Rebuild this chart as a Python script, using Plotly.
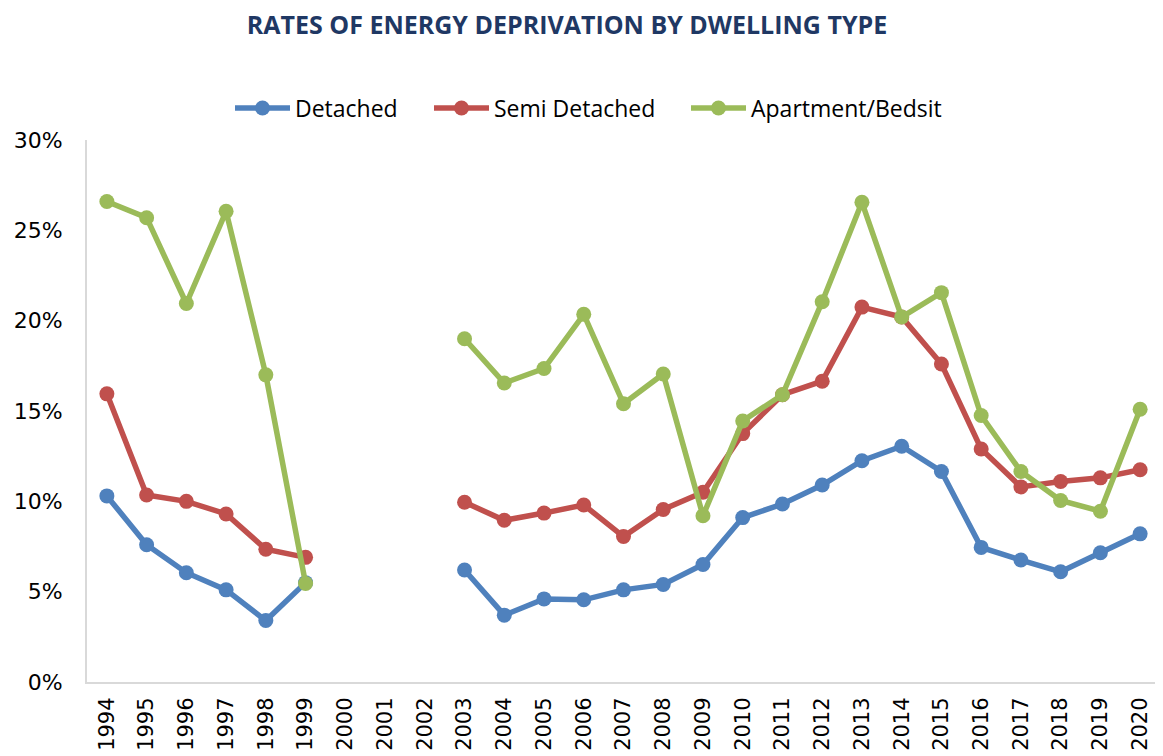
import plotly.graph_objects as go

years = [str(y) for y in range(1994, 2021)]

detached = [10.3, 7.6, 6.05, 5.1, 3.4, 5.5, None, None, None,
            6.2, 3.7, 4.6, 4.55, 5.1, 5.4, 6.5, 9.1, 9.85, 10.9,
            12.25, 13.05, 11.65, 7.45, 6.75, 6.1, 7.15, 8.2]
semi = [15.95, 10.35, 10.0, 9.3, 7.35, 6.9, None, None, None,
        9.95, 8.95, 9.35, 9.8, 8.05, 9.55, 10.5, 13.75, 15.9, 16.65,
        20.75, 20.2, 17.6, 12.9, 10.8, 11.1, 11.3, 11.75]
apartment = [26.6, 25.7, 20.95, 26.05, 17.0, 5.45, None, None, None,
             19.0, 16.55, 17.35, 20.35, 15.4, 17.05, 9.2, 14.45, 15.9, 21.05,
             26.55, 20.2, 21.55, 14.75, 11.65, 10.05, 9.45, 15.1]

names = ["Detached", "Semi Detached", "Apartment/Bedsit"]
colors = ["#4F81BD", "#C0504D", "#9BBB59"]
series = [detached, semi, apartment]
legend_ids = ["legend", "legend2", "legend3"]

W, H = 1155, 748  # page body adds an 8px offset
legend_x = [222, 421, 678]

fig = go.Figure()
for name, color, vals, lid in zip(names, colors, series, legend_ids):
    fig.add_trace(go.Scatter(
        x=years, y=[None if v is None else v / 100 for v in vals],
        name=name, mode="lines+markers",
        line=dict(color=color, width=5.5),
        marker=dict(color=color, size=15),
        connectgaps=False, legend=lid,
    ))

legend_common = dict(orientation="h", xref="container", yref="container",
                     xanchor="left", yanchor="middle", y=1 - 100 / H,
                     font=dict(family="Open Sans", size=23, color="black"),
                     itemwidth=55, bgcolor="rgba(0,0,0,0)", borderwidth=0)

fig.update_layout(
    width=W, height=H,
    paper_bgcolor="white", plot_bgcolor="white",
    margin=dict(l=79, r=3, t=132, b=74),
    title=dict(text="<b>RATES OF ENERGY DEPRIVATION BY DWELLING TYPE</b>",
               x=559 / W, xanchor="center", y=1 - 17 / H, yanchor="middle",
               font=dict(family="Open Sans", size=25, color="#1F3864")),
    legend=dict(x=legend_x[0] / W, **legend_common),
    legend2=dict(x=legend_x[1] / W, **legend_common),
    legend3=dict(x=legend_x[2] / W, **legend_common),
    showlegend=True,
)
fig.update_xaxes(type="category", showgrid=False, showline=True, linecolor="#D9D9D9",
                 linewidth=2, ticks="", tickangle=-90, automargin=False,
                 tickfont=dict(family="DejaVu Sans", size=21, color="black"),
                 ticklabelstandoff=5, range=[-0.5, 26.5])
fig.update_yaxes(range=[0, 0.3], dtick=0.05, tickformat=".0%", showgrid=False,
                 showline=True, linecolor="#D9D9D9", linewidth=2, ticks="",
                 automargin=False,
                 tickfont=dict(family="DejaVu Sans", size=22, color="black"),
                 ticklabelstandoff=18, zeroline=False)

fig.write_html("out.html")
